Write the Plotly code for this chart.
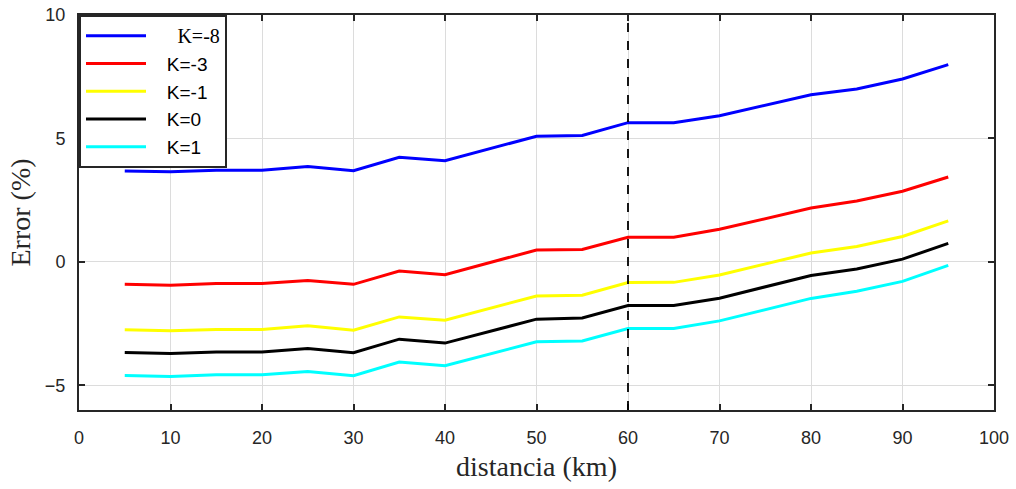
import plotly.graph_objects as go

# distances (km)
x_km = [5, 10, 15, 20, 25, 30, 35, 40, 50, 55, 60, 65, 70, 80, 85, 90, 95]

k_m8 = [3.68, 3.65, 3.71, 3.71, 3.86, 3.69, 4.24, 4.10, 5.09, 5.12, 5.64, 5.64, 5.92, 6.77, 7.00, 7.41, 7.99]
k_m3 = [-0.91, -0.95, -0.88, -0.88, -0.75, -0.91, -0.37, -0.52, 0.48, 0.50, 1.00, 1.00, 1.32, 2.18, 2.47, 2.86, 3.44]
k_m1 = [-2.75, -2.79, -2.74, -2.74, -2.59, -2.77, -2.23, -2.36, -1.38, -1.35, -0.84, -0.83, -0.53, 0.36, 0.62, 1.03, 1.66]
k_0 = [-3.67, -3.71, -3.65, -3.65, -3.51, -3.68, -3.13, -3.29, -2.32, -2.27, -1.77, -1.77, -1.47, -0.55, -0.29, 0.11, 0.75]
k_1 = [-4.60, -4.64, -4.57, -4.57, -4.44, -4.61, -4.06, -4.21, -3.24, -3.20, -2.70, -2.70, -2.39, -1.48, -1.19, -0.79, -0.14]

series_labels = ["K=-8", "K=-3", "K=-1", "K=0", "K=1"]
series_values = [k_m8, k_m3, k_m1, k_0, k_1]
series_colors = ["#0000ff", "#ff0000", "#ffff00", "#000000", "#00ffff"]

divider_x = 60

x_ticks = list(range(0, 101, 10))
y_ticks = [-5, 0, 5, 10]

pad = "\u00a0" * 3
fig = go.Figure()
for i, (lab, vals, col) in enumerate(zip(series_labels, series_values, series_colors)):
    if i == 0:
        name = pad + "\u00a0\u00a0" + '<span style="font-family:\'Liberation Serif\';font-size:20px">' + lab + "</span>"
    else:
        name = pad + lab
    fig.add_trace(go.Scatter(x=x_km, y=vals, mode="lines", name=name,
                             legendgroup="g%d" % i,
                             line=dict(color=col, width=3)))

fig.add_shape(type="line", xref="x", yref="paper", x0=divider_x, x1=divider_x, y0=0, y1=1,
              line=dict(color="black", width=1.8, dash="dash"))

axis_common = dict(
    showline=True, linecolor="#262626", linewidth=2, mirror="ticks",
    ticks="inside", ticklen=6, tickwidth=2, tickcolor="#262626",
    showgrid=True, gridcolor="#dcdcdc", gridwidth=1.3, zeroline=False,
    automargin=False,
    tickfont=dict(family="Liberation Sans, Arial, sans-serif", size=18, color="#262626"),
    title_font=dict(family="Liberation Serif, Times New Roman, serif", size=28, color="#262626"),
)

fig.update_xaxes(range=[0, 100], tickvals=x_ticks, title_text="distancia (km)",
                 ticklabelstandoff=10, title_standoff=10, **axis_common)
fig.update_yaxes(range=[-6, 10], tickvals=y_ticks, title_text="Error (%)",
                 ticklabelstandoff=8, title_standoff=6, **axis_common)

fig.update_layout(
    width=1016, height=489,
    margin=dict(l=79, r=22, t=15, b=79),
    paper_bgcolor="white", plot_bgcolor="white",
    showlegend=True,
    legend=dict(x=0, y=1, xanchor="left", yanchor="top",
                bgcolor="white", bordercolor="#262626", borderwidth=2,
                font=dict(family="Liberation Sans, Arial, sans-serif", size=19, color="#000000"),
                itemwidth=60, tracegroupgap=0),
)

fig.write_html("out.html")
